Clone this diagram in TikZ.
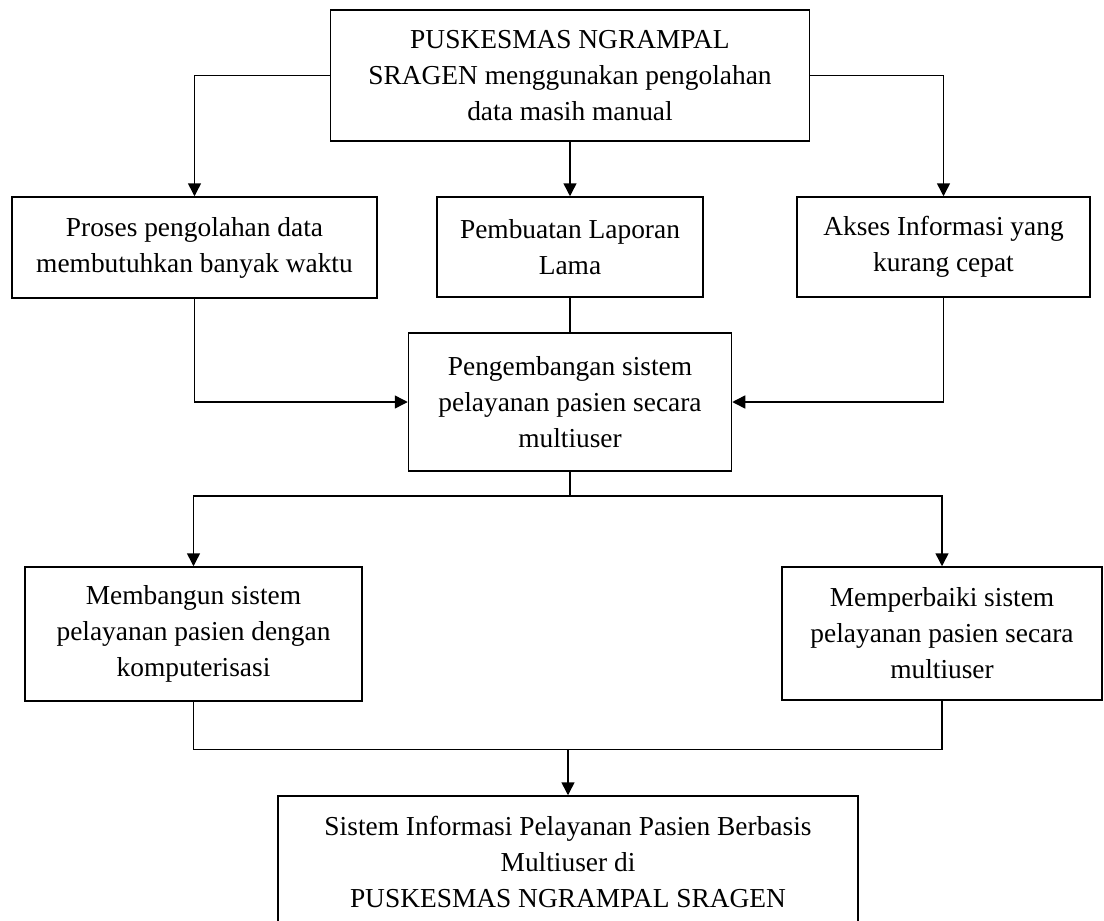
\documentclass[tikz,border=0pt]{standalone}
\usepackage{fontspec}
\setmainfont{Liberation Serif}
\usetikzlibrary{arrows.meta,positioning}

\begin{document}
\begin{tikzpicture}[
        % one unit is one pixel of the page, y pointing down
        x=1pt, y=-1pt,
        %
        line width=1.5pt,
        >={Triangle[width=13pt,length=13pt]},
        kotak/.style={draw, rectangle, inner sep=0pt, align=center,
            font=\fontsize{27.4}{36}\selectfont}
    ]

        % Fix the page to the size of the reference
        \useasboundingbox (0,0) rectangle (1104,921);

        % Define the gap between a box and the joining line
        \def\gapbawah{24pt}
        \def\gapatas{46pt}

        % Draw the starting problem
        \node[kotak, minimum width=479pt, minimum height=131pt]
            (puskesmas) at (570,75.5)
            {PUSKESMAS NGRAMPAL\\SRAGEN menggunakan pengolahan\\data masih manual};

        % Draw the three problems
        \node[kotak, minimum width=365pt, minimum height=101pt]
            (proses) at (194.5,247.5)
            {Proses pengolahan data\\membutuhkan banyak waktu};
        \node[kotak, minimum width=266pt, minimum height=100pt]
            (laporan) at (570,247)
            {Pembuatan Laporan\\Lama};
        \node[kotak, minimum width=293pt, minimum height=100pt]
            (akses) at (943.5,247)
            {Akses Informasi yang\\kurang cepat};

        % Draw the development box
        \node[kotak, minimum width=323pt, minimum height=138pt]
            (pengembangan) at (570,402)
            {Pengembangan sistem\\pelayanan pasien secara\\multiuser};

        % Draw the two solutions
        \node[kotak, minimum width=337pt, minimum height=134pt]
            (membangun) at (193.5,634)
            {Membangun sistem\\pelayanan pasien dengan\\komputerisasi};
        \node[kotak, minimum width=320pt, minimum height=133pt]
            (perbaiki) at (942,633.5)
            {Memperbaiki sistem\\pelayanan pasien secara\\multiuser};

        % Draw the result
        \node[kotak, minimum width=580pt, minimum height=131pt]
            (hasil) at (568,861.5)
            {Sistem Informasi Pelayanan Pasien Berbasis\\Multiuser di\\PUSKESMAS NGRAMPAL SRAGEN};

        % Split and join points
        \coordinate[below=\gapbawah of pengembangan.south] (bagi);
        \coordinate[above=\gapatas of hasil.north] (gabung);

        % Connect the problems
        \draw[->] (puskesmas.west) -| (proses.north);
        \draw[->] (puskesmas.south) -- (laporan.north);
        \draw[->] (puskesmas.east) -| (akses.north);

        % Connect to the development box
        \draw[->] (proses.south) |- (pengembangan.west);
        \draw (laporan.south) -- (pengembangan.north);
        \draw[->] (akses.south) |- (pengembangan.east);

        % Split to the two solutions
        \draw (pengembangan.south) -- (bagi);
        \draw[->] (bagi) -| (membangun.north);
        \draw[->] (bagi) -| (perbaiki.north);

        % Join to the result
        \draw (membangun.south) |- (gabung);
        \draw (perbaiki.south) |- (gabung);
        \draw[->] (gabung) -- (hasil.north);

\end{tikzpicture}
\end{document}
